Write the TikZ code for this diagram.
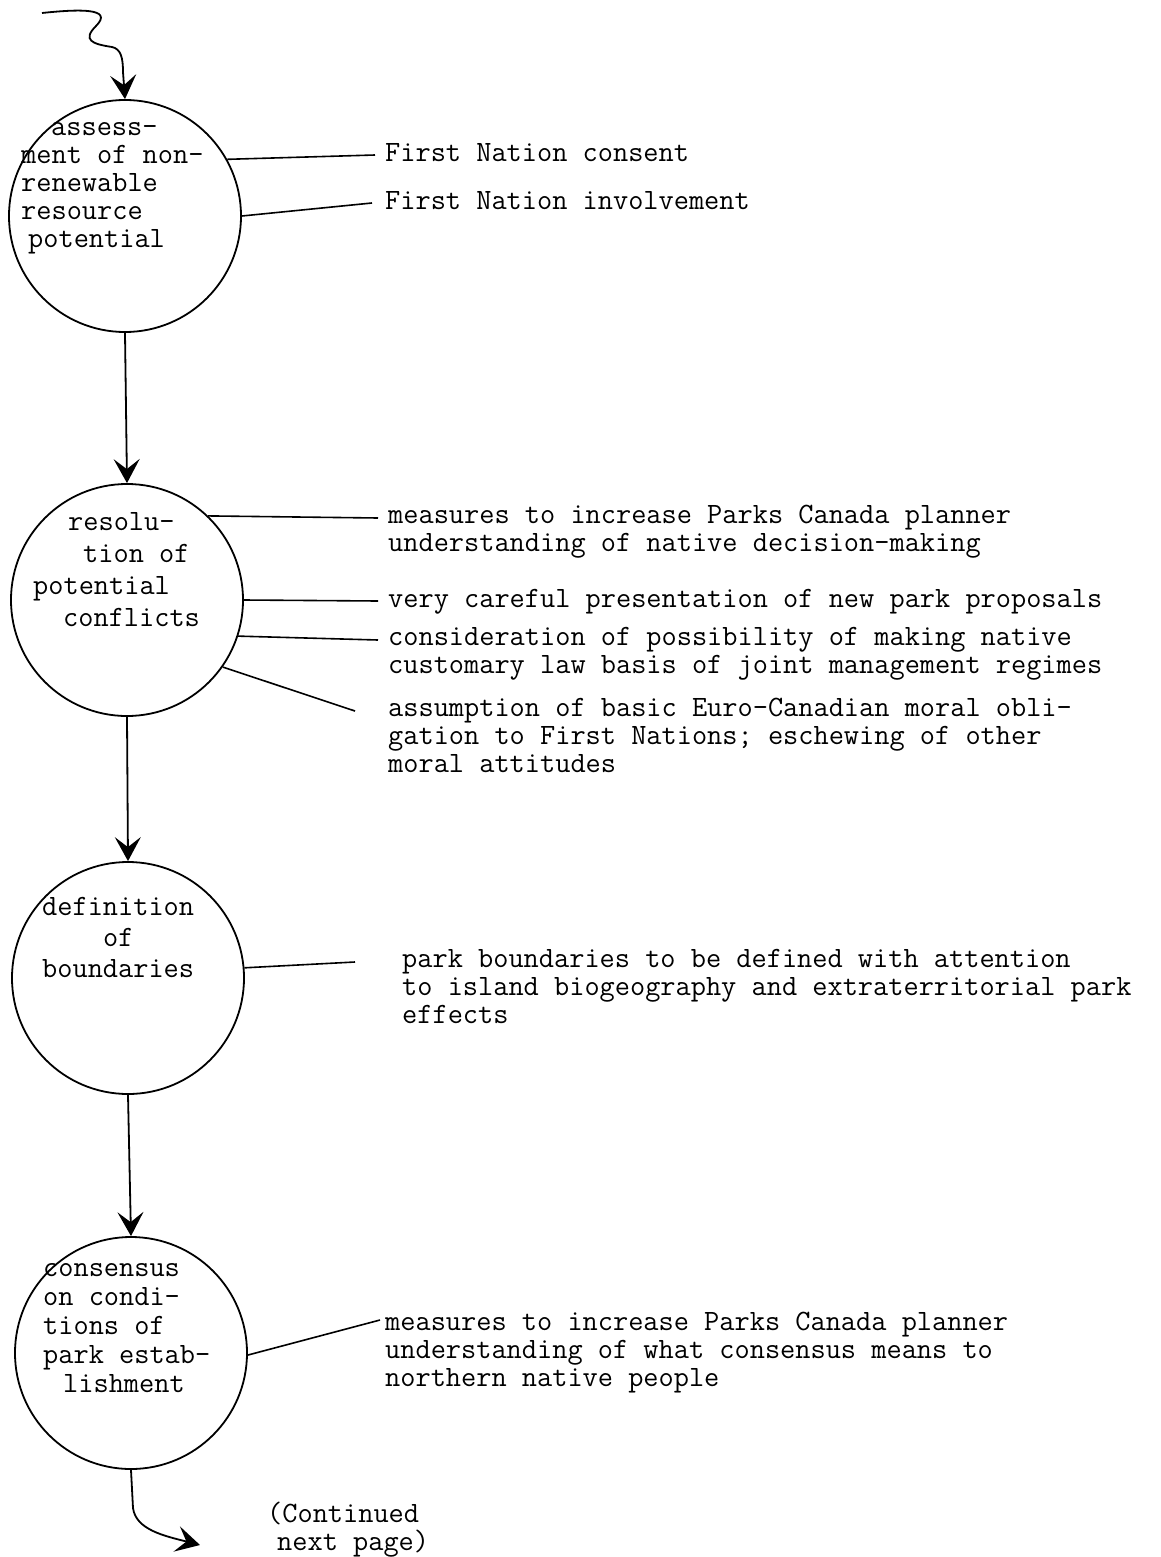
\documentclass[tikz,border=0pt]{standalone}
\usepackage{fontspec}
\usetikzlibrary{arrows.meta}

\begin{document}
\begin{tikzpicture}[x=1pt, y=-1pt,
		stage/.style={circle, draw, line width=1.8pt, minimum size=232pt, inner sep=0pt},
		typed/.style={font=\ttfamily\fontsize{29.5}{#1}\selectfont, align=left, anchor=north west, inner sep=0pt, execute at begin node=\strut},
		typed/.default=28,
		flow/.style={line width=1.8pt, -{Stealth[length=24pt, width=26pt, inset=10pt]}},
		tie/.style={line width=1.6pt}]
		\useasboundingbox (0, 0) rectangle (1160, 1557);

		% the four stages
		\node [stage] (c1) at (125, 216) {};
		\node [stage] (c2) at (127, 600) {};
		\node [stage] (c3) at (128, 978) {};
		\node [stage] (c4) at (131, 1353) {};

		% text typed inside the circles
		\node [typed] (c1txt) at (21, 122) {\hspace*{30pt}assess-\\ment of non-\\renewable\\resource\\\hspace*{7pt}potential};
		\node [typed=32] (c2txt) at (33, 512) {\hspace*{35pt}resolu-\\\hspace*{50pt}tion of\\potential\\\hspace*{30pt}conflicts};
		\node [typed=31] (c3txt) at (42, 897) {definition\\\hspace*{61pt}of\\boundaries};
		\node [typed=29] (c4txt) at (43, 1263) {consensus\\on condi-\\tions of\\park estab-\\\hspace*{20pt}lishment};

		% flow between stages
		\coordinate (entry) at (42, 13);
		\draw [flow] (entry) .. controls (80, 9) and (114, 8) .. (96, 26) .. controls (82, 40) and (92, 44) .. (112, 47) .. controls (121, 49) and (123, 58) .. (123, 72) -- (c1.north);
		\draw [flow] (c1.south) -- (c2.north);
		\draw [flow] (c2.south) -- (c3.north);
		\draw [flow] (c3.south) -- (c4.north);
		\coordinate (onward) at (200, 1545);
		\draw [flow] (c4.south) -- (133, 1508) .. controls (136, 1530) and (165, 1536) .. (onward);
		\node [typed] (cont) at (267, 1502) {(Continued\\\hspace*{10pt}next page)};

		% conditions attached to each stage
		\node [typed] (n1) at (385, 142) {First Nation consent};
		\node [typed] (n2) at (385, 190) {First Nation involvement};
		\draw [tie] (c1.29) -- ([xshift=-10pt, yshift=-13pt]n1.north west);
		\draw [tie] (c1.0) -- ([xshift=-13pt, yshift=-13pt]n2.north west);

		\node [typed] (n3) at (388, 505) {measures to increase Parks Canada planner\\understanding of native decision-making};
		\node [typed] (n4) at (388, 588) {very careful presentation of new park proposals};
		\node [typed] (n5) at (388, 627) {consideration of possibility of making native\\customary law basis of joint management regimes};
		\node [typed] (n6) at (388, 698) {assumption of basic Euro-Canadian moral obli-\\gation to First Nations; eschewing of other\\moral attitudes};
		\draw [tie] (c2.46) -- ([xshift=-10pt, yshift=-13pt]n3.north west);
		\draw [tie] (c2.0) -- ([xshift=-10pt, yshift=-13pt]n4.north west);
		\draw [tie] (c2.-18) -- ([xshift=-10pt, yshift=-13pt]n5.north west);
		\draw [tie] (c2.-35) -- ([xshift=-33pt, yshift=-13pt]n6.north west);

		\node [typed] (n7) at (402, 949) {park boundaries to be defined with attention\\to island biogeography and extraterritorial park\\effects};
		\draw [tie] (c3.5) -- ([xshift=-47pt, yshift=-13pt]n7.north west);

		\node [typed] (n8) at (385, 1312) {measures to increase Parks Canada planner\\understanding of what consensus means to\\northern native people};
		\draw [tie] (c4.-1) -- ([xshift=-5pt, yshift=-8pt]n8.north west);
	\end{tikzpicture}
\end{document}
